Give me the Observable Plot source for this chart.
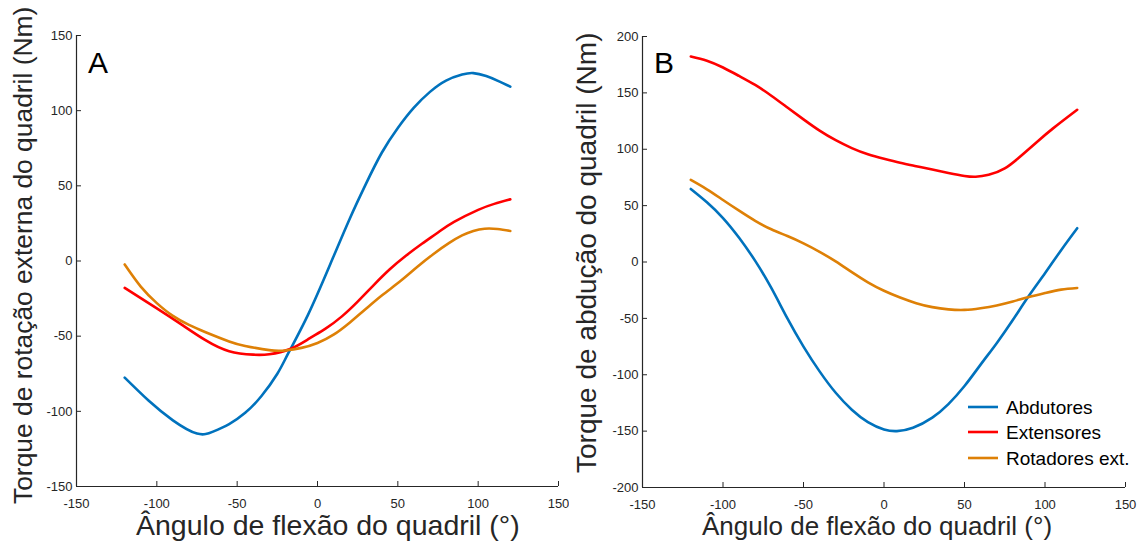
<!DOCTYPE html>
<html>
<head>
<meta charset="utf-8">
<script src="https://cdn.jsdelivr.net/npm/d3@7"></script>
<script src="https://cdn.jsdelivr.net/npm/@observablehq/plot@0.6"></script>
<style>
  html, body { margin: 0; padding: 0; background: white; }
  #wrap { position: relative; width: 1138px; height: 543px; overflow: hidden; background: white; }
  #wrap > .panel { position: absolute; top: 0; }
  #overlay { position: absolute; left: 0; top: 0; pointer-events: none; }
</style>
</head>
<body>
<div id="wrap"></div>
<script>
// ---------- data ----------
const xTicks = [-150, -100, -50, 0, 50, 100, 150];
const yTicksA = [-150, -100, -50, 0, 50, 100, 150];
const yTicksB = [-200, -150, -100, -50, 0, 50, 100, 150, 200];

const seriesNames = ["Abdutores", "Extensores", "Rotadores ext."];
const seriesColors = ["#0072BD", "#FF0000", "#DE8006"];

// Panel A: external rotation torque
const A_abdutores = [[-120,-77.6],[-105,-93],[-90,-106],[-75,-114.8],[-65,-113.5],[-55,-108.5],[-45,-101],[-35,-90],[-25,-75],[-18,-61],[-6,-36],[8,-2],[20,28],[30,51],[40,72],[50,88.5],[60,102],[70,112.5],[80,120],[90,124],[97,125],[105,123],[113,119.5],[120,116]];
const A_extensores = [[-120,-17.9],[-100,-31.5],[-85,-42],[-70,-52.5],[-55,-60],[-40,-62.3],[-30,-62],[-17,-58.5],[-5,-51.5],[5,-45],[15,-37],[25,-27],[35,-16],[45,-5.5],[55,3.5],[65,11.5],[75,19],[85,26],[100,34],[110,38],[120,41]];
const A_rotadores = [[-120,-2.3],[-110,-17],[-100,-28],[-90,-36.5],[-80,-42.5],[-70,-47.2],[-55,-53.5],[-45,-56.5],[-30,-59.3],[-20,-59.5],[-10,-57.8],[0,-54.5],[10,-49],[20,-41],[30,-32],[40,-23],[52,-13],[62,-4],[72,4.5],[82,12],[90,17],[97,20],[104,21.5],[112,21.3],[120,20]];

// Panel B: abduction torque
const B_abdutores = [[-120,64.8],[-110,53],[-100,39],[-90,21.5],[-80,1],[-70,-23],[-60,-50],[-50,-75],[-40,-97],[-30,-116],[-20,-131],[-10,-142],[0,-148.5],[8,-150],[18,-147],[30,-138],[40,-126],[50,-110],[60,-91],[70,-72],[80,-51.5],[90,-30],[100,-10],[110,10.5],[120,30]];
const B_extensores = [[-120,182.3],[-110,178.5],[-100,172.5],[-90,165],[-80,157],[-70,147.5],[-60,137],[-50,126.5],[-40,116.5],[-30,108],[-20,101],[-10,95.5],[0,91.5],[10,88],[20,85],[30,82],[40,79],[50,76.3],[57,75.6],[65,77.3],[75,83],[85,94],[95,106.5],[105,118.5],[120,135]];
const B_rotadores = [[-120,72.8],[-110,64.5],[-100,55],[-90,45.5],[-80,36.5],[-70,29],[-60,23],[-50,16.5],[-40,9],[-30,0.5],[-20,-9],[-10,-18],[0,-25.5],[10,-31.5],[20,-36.5],[30,-40],[40,-42],[50,-42.5],[60,-41],[70,-38.5],[80,-35],[90,-31],[100,-27.5],[110,-24.5],[120,-23]];

// ---------- drawing ----------
const axisColor = "#262626";
const fmt = d => `${d}`;

function panel({series, yTicks, yDomain, left, mL, mR, mT, mB}) {
  const W = 569, H = 543;
  const innerW = W - mL - mR, innerH = H - mT - mB;
  const marks = [
    Plot.axisX(xTicks, {tickSize: 0, tickPadding: 12, tickFormat: fmt, label: null, fontSize: 13, fill: axisColor}),
    Plot.axisY(yTicks, {tickSize: 0, tickPadding: 4, tickFormat: fmt, label: null, fontSize: 13, fill: axisColor}),
    Plot.tickX(xTicks, {x: d => d, insetTop: innerH - 5, stroke: axisColor, strokeWidth: 1}),
    Plot.tickY(yTicks, {y: d => d, insetRight: innerW - 5, stroke: axisColor, strokeWidth: 1}),
    Plot.ruleX([xTicks[0]], {stroke: axisColor, strokeWidth: 1.2}),
    Plot.ruleY([yDomain[0]], {stroke: axisColor, strokeWidth: 1.2})
  ];
  series.forEach((s, i) => {
    marks.push(Plot.line(s, {x: d => d[0], y: d => d[1], stroke: seriesColors[i], strokeWidth: 2.6, curve: "natural"}));
  });
  const chart = Plot.plot({
    width: W, height: H,
    marginLeft: mL, marginRight: mR, marginTop: mT, marginBottom: mB,
    x: {domain: [-150, 150]},
    y: {domain: yDomain},
    style: {fontFamily: "'Liberation Sans', Arial, sans-serif", fontSize: "13px", color: axisColor, background: "white", overflow: "visible"},
    marks
  });
  chart.classList.add("panel");
  chart.style.left = left + "px";
  return chart;
}

const wrap = document.getElementById("wrap");
wrap.appendChild(panel({series: [A_abdutores, A_extensores, A_rotadores], yTicks: yTicksA, yDomain: [-150, 150], left: 0, mL: 76, mR: 11, mT: 35, mB: 57}));
wrap.appendChild(panel({series: [B_abdutores, B_extensores, B_rotadores], yTicks: yTicksB, yDomain: [-200, 200], left: 569, mL: 73, mR: 13, mT: 36, mB: 56}));

// overlay: titles, panel letters, legend
const svg = d3.select("#wrap").append("svg")
  .attr("id", "overlay").attr("width", 1138).attr("height", 543)
  .style("font-family", "'Liberation Sans', Arial, sans-serif");

svg.append("text").attr("transform", "translate(32,504) rotate(-90)")
  .attr("font-size", 26.4).attr("fill", axisColor).text("Torque de rotação externa do quadril (Nm)");
svg.append("text").attr("transform", "translate(596,473) rotate(-90)")
  .attr("font-size", 28).attr("fill", axisColor).text("Torque de abdução do quadril (Nm)");
svg.append("text").attr("x", 136).attr("y", 535)
  .attr("font-size", 28.5).attr("fill", axisColor).text("Ângulo de flexão do quadril (°)");
svg.append("text").attr("x", 702).attr("y", 535)
  .attr("font-size", 26).attr("fill", axisColor).text("Ângulo de flexão do quadril (°)");

svg.append("text").attr("x", 88).attr("y", 73).attr("font-size", 30).attr("fill", "#000").text("A");
svg.append("text").attr("x", 654).attr("y", 73).attr("font-size", 30).attr("fill", "#000").text("B");

const legendY = [407, 432, 458];
seriesNames.forEach((name, i) => {
  svg.append("line").attr("x1", 968).attr("x2", 998).attr("y1", legendY[i]).attr("y2", legendY[i])
    .attr("stroke", seriesColors[i]).attr("stroke-width", 2.6);
  svg.append("text").attr("x", 1006).attr("y", legendY[i] + 7).attr("font-size", 19).attr("fill", "#000").text(name);
});
</script>
</body>
</html>
